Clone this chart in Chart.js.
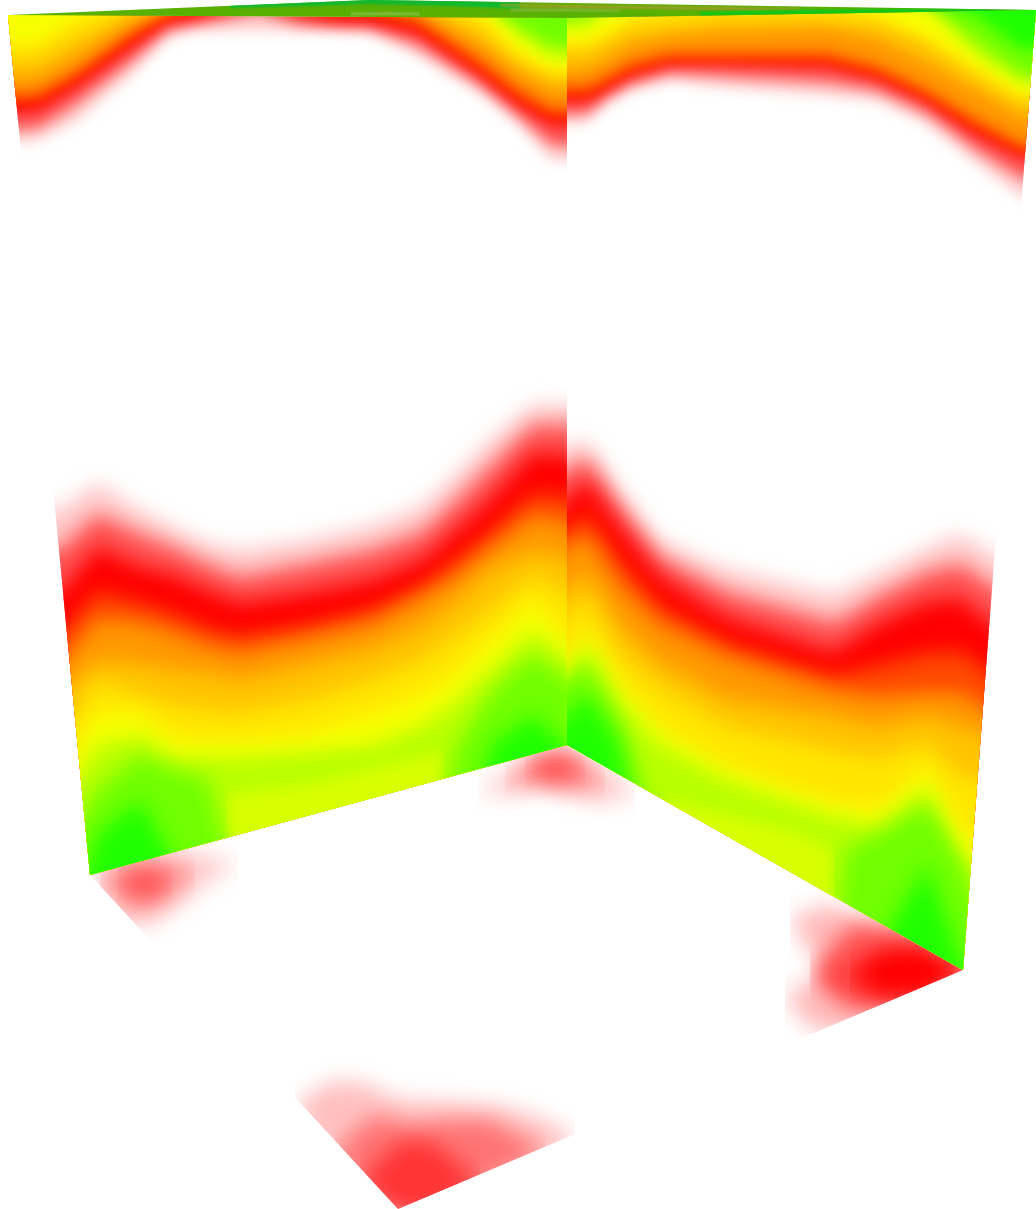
<!DOCTYPE html>
<html><head><meta charset="utf-8">
<style>html,body{margin:0;padding:0;background:#fff;overflow:hidden;width:1036px;height:1209px}
#wrap{position:absolute;left:-50px;top:-50px;width:1136px;height:1309px}</style>
<script src="https://cdn.jsdelivr.net/npm/chart.js@4"></script></head>
<body><div id="wrap"><canvas id="c" width="1136" height="1309"></canvas></div>
<script>
// Panel outlines
const leftWallX=[8,567,567,90], leftWallY=[15,18,745,875];
const rightWallX=[567,1036,963,567], rightWallY=[18,10,970,745];
const floorX=[90,565,963,398], floorY=[875,745,970,1209];
const ceilingX=[8,370,1036,567], ceilingY=[15,0,10,18];
// Colour of each level, from the white edge inwards
const levelColors=['#ffc8c8','#ff5050','#ff0000','#ff4800','#ff9800','#ffc400','#ffe600','#f8ff00','#b8ff00','#70ff00','#20ff00'];

// Lower band, left wall
const llX=[40,63,97,140,173,207,240,307,373,423,457,490,533,580];
const llOuter=[510,508,483,510,527,543,550,540,525,505,473,440,405,405];
const llPink=[552,547,514,534,547,564,577,564,550,532,500,467,425,425];
const llRed=[600,590,547,567,575,590,603,593,580,560,530,500,453,457];
const llRedOr=[643,633,591,603,613,628,636,625,609,586,559,533,493,498];
const llOrange=[675,660,618,622,632,645,652,638,622,595,575,548,515,525];
const llAmber=[710,690,660,663,670,673,680,665,648,625,600,570,550,560];
const llGold=[745,728,680,695,705,710,712,700,680,660,635,610,575,600];
const llYellow=[800,767,712,712,737,740,740,733,713,695,672,640,600,647];
const llLime=[830,800,745,735,757,757,757,752,745,725,700,670,630,670];
const llMid=[900,850,790,755,770,778,900,900,900,900,745,695,655,690];
const llGreen=[950,950,835,800,860,950,950,950,950,950,950,745,715,760];

// Lower band, right wall
const lrX=[550,587,620,660,727,833,845,877,927,960,1010];
const lrOuter=[451,441,491,541,569,594,588,573,548,534,565];
const lrPink=[480,458,506,557,592,622,617,597,572,564,597];
const lrRed=[516,481,527,577,618,652,645,624,602,598,640];
const lrRedOr=[541,513,561,606,643,676,673,665,653,651,686];
const lrOrange=[556,535,585,624,656,689,691,696,692,692,721];
const lrAmber=[600,573,626,662,698,716,719,726,716,726,744];
const lrGold=[630,598,655,687,726,751,753,759,744,775,790];
const lrYellow=[680,630,684,726,766,801,803,809,766,823,870];
const lrLime=[700,644,701,744,780,816,818,826,787,859,900];
const lrMid=[690,665,722,840,1000,1000,850,835,805,859,1000];
const lrGreen=[730,695,745,1000,1000,1000,1000,950,865,960,1000];

// Upper band, left wall
const ulX=[-10,37,74,130,167,190,259,300,335,370,418,481,518,552,590];
const ulOuter=[145,140,122,75,38,30,30,30,30,32,55,93,123,160,160];
const ulPink=[130,128,105,62,30,25,12,25,27,28,45,85,115,145,145];
const ulRed=[112,110,87,47,21,18,0,13,20,21,32,74,104,124,124];
const ulRedOr=[102,102,80,40,16,11,0,9,13,13,26,70,99,117,117];
const ulOrange=[94,92,72,32,11,0,0,0,6,6,17,59,87,107,107];
const ulAmber=[78,75,55,20,5,0,0,0,0,0,8,42,70,88,88];
const ulGold=[60,58,37,10,0,0,0,0,0,0,0,28,58,75,75];
const ulYellow=[42,42,18,0,0,0,0,0,0,0,0,12,50,68,68];
const ulLime=[0,0,0,0,0,0,0,0,0,0,0,0,35,58,58];
const ulMid=[0,0,0,0,0,0,0,0,0,0,0,0,25,45,45];

// Upper band, right wall
const urX=[550,587,607,630,670,727,827,877,927,977,1020,1050];
const urOuter=[125,122,103,90,80,87,95,100,123,163,195,205];
const urPink=[114,113,97,84,73,76,82,90,113,150,177,182];
const urRed=[100,100,87,74,62,62,65,77,100,134,155,162];
const urRedOr=[95,95,84,71,60,60,61,74,97,129,151,157];
const urOrange=[85,85,75,62,52,52,52,65,89,119,142,150];
const urAmber=[70,67,57,43,35,30,28,38,62,90,115,120];
const urGold=[50,50,40,28,22,16,16,22,42,75,100,105];
const urYellow=[40,40,30,15,0,0,0,12,34,66,92,96];
const urLime=[30,28,10,0,0,0,0,0,8,55,82,88];
const urMid=[18,15,0,0,0,0,0,0,0,40,72,76];
const urGreen=[0,0,0,0,0,0,0,0,0,15,48,50];

// Pale yellow-green stretches along the foot of each wall
const footLX=[225,300,400,445], footLUp=[795,785,762,752], footLLow=[900,900,900,900];
const footRX=[665,727,790,835], footRUp=[800,815,830,850], footRLow=[1000,1000,1000,1000];

// Floor patches
const fbX=[478,510,540,570,600,635], fbUp=[791,770,750,745,762,795], fbLow=[791,795,788,795,803,795];
const fbX2=[505,540,570,605], fbUp2=[782,752,750,785], fbLow2=[782,785,790,785];
const fbX3=[525,555,585], fbUp3=[768,755,768], fbLow3=[768,782,768];
const flX=[90,120,150,180,210,238], flUp=[872,855,850,850,858,862], flLow=[872,925,925,905,880,862];
const flX2=[100,130,160,195], flUp2=[880,860,860,872], flLow2=[880,910,905,872];
const flX3=[118,145,172], flUp3=[882,870,882], flLow3=[882,897,882];
const frX=[790,830,880,930], frUp=[918,905,925,950], frLow=[918,985,1000,990];
const frXb=[785,815,850,900], frUpb=[1000,975,960,960], frLowb=[1000,1030,1030,1010];
const frX2=[810,850,900,945,975], frUp2=[975,925,925,945,970], frLow2=[975,1010,1010,990,970];
const frX3=[850,880,920,975], frUp3=[975,950,945,970], frLow3=[975,995,1000,970];
const ffX=[295,330,360,400,450,500,540,575], ffUp=[1105,1082,1082,1100,1102,1106,1118,1137], ffLow=[1105,1170,1215,1215,1215,1215,1170,1137];
const ffX2=[335,375,410,450,490,545], ffUp2=[1150,1115,1125,1120,1120,1150], ffLow2=[1150,1215,1215,1215,1180,1150];
const ffX3=[360,400,430,480], ffUp3=[1180,1140,1140,1180], ffLow3=[1180,1215,1215,1180];

// Ceiling streaks
const ceilBaseX=[-10,1050], ceilBaseY=[30,30];
const ceilTopX=[230,300,370,450,520], ceilTopUp=[-5,-5,-5,-5,-5], ceilTopLow=[8,6,4,6,9];
const ceilOliveX=[500,570,650,730,800], ceilOliveUp=[4,5,6,7,8], ceilOliveLow=[6,8,9,10,10];
const ceilPaleX=[350,385,420], ceilPaleUp=[13,12.5,13], ceilPaleLow=[15,15,15];
const ceilPale2X=[510,560,620], ceilPale2Up=[9,9,10], ceilPale2Low=[11,11,11.5];
const ceilRightX=[700,800,900,1050], ceilRightUp=[12,10,9,8], ceilRightLow=[16,15,14,11];

const panels={
  left:{xs:leftWallX,ys:leftWallY},
  right:{xs:rightWallX,ys:rightWallY},
  floor:{xs:floorX,ys:floorY},
  ceiling:{xs:ceilingX,ys:ceilingY}
};
const paint=[];
function line(panel,blur,X,Y,fill,color){
  return {panel,blur,data:X.map((x,i)=>({x,y:Y[i]})),fill,backgroundColor:color,borderWidth:0,pointRadius:0,tension:0};
}
function stack(panel,blur,X,levels,target,offset){
  levels.forEach((Y,i)=>paint.push(line(panel,blur,X,Y,target,levelColors[i+(offset||0)])));
}
function band(panel,blur,X,up,low,color){
  paint.push(line(panel,blur,X,low,'-1',color));
  paint.push(line(panel,blur,X,up,false,color));
}
// Floor
[[fbX,fbUp,fbLow,'rgba(255,0,0,.22)'],[fbX2,fbUp2,fbLow2,'rgba(255,0,0,.35)'],[fbX3,fbUp3,fbLow3,'rgba(255,0,0,.45)'],
 [flX,flUp,flLow,'rgba(255,0,0,.22)'],[flX2,flUp2,flLow2,'rgba(255,0,0,.35)'],[flX3,flUp3,flLow3,'rgba(255,0,0,.45)'],
 [frX,frUp,frLow,'rgba(255,0,0,.28)'],[frXb,frUpb,frLowb,'rgba(255,0,0,.28)'],[frX2,frUp2,frLow2,'rgba(255,0,0,.55)'],[frX3,frUp3,frLow3,'rgba(255,0,0,1)'],
 [ffX,ffUp,ffLow,'rgba(255,0,0,.25)'],[ffX2,ffUp2,ffLow2,'rgba(255,0,0,.4)'],[ffX3,ffUp3,ffLow3,'rgba(255,0,0,.55)']
].forEach(b=>band('floor',11,b[0],b[1],b[2],b[3]));
// Walls
stack('left',10,llX,[llOuter,llPink,llRed,llRedOr,llOrange,llAmber,llGold,llYellow,llLime],'start');
band('left',8,footLX,footLUp,footLLow,'#d8ff00');
stack('left',10,llX,[llMid,llGreen],'start',9);
stack('right',10,lrX,[lrOuter,lrPink,lrRed,lrRedOr,lrOrange,lrAmber,lrGold,lrYellow,lrLime],'start');
band('right',8,footRX,footRUp,footRLow,'#d8ff00');
stack('right',10,lrX,[lrMid,lrGreen],'start',9);
stack('left',7,ulX,[ulOuter,ulPink,ulRed,ulRedOr,ulOrange,ulAmber,ulGold,ulYellow,ulLime,ulMid],'end');
stack('right',7,urX,[urOuter,urPink,urRed,urRedOr,urOrange,urAmber,urGold,urYellow,urLime,urMid,urGreen],'end');
// Ceiling
paint.push(line('ceiling',1,ceilBaseX,ceilBaseY,'end','#58b000'));
band('ceiling',1,ceilTopX,ceilTopUp,ceilTopLow,'#10b830');
band('ceiling',1,ceilOliveX,ceilOliveUp,ceilOliveLow,'#a09c28');
band('ceiling',1,ceilPaleX,ceilPaleUp,ceilPaleLow,'#90bc50');
band('ceiling',1,ceilPale2X,ceilPale2Up,ceilPale2Low,'#90b848');
band('ceiling',1,ceilRightX,ceilRightUp,ceilRightLow,'#10c818');

const panelPlugin={id:'panelClip',
  beforeDatasetDraw(chart,args){
    const ds=chart.data.datasets[args.index],p=panels[ds.panel];
    if(!p)return;
    const c=chart.ctx,sx=chart.scales.x,sy=chart.scales.y;
    c.save();c.beginPath();
    p.xs.forEach((x,i)=>{const px=sx.getPixelForValue(x),py=sy.getPixelForValue(p.ys[i]);i?c.lineTo(px,py):c.moveTo(px,py);});
    c.closePath();c.clip();c.filter='blur('+ds.blur+'px)';
  },
  afterDatasetDraw(chart,args){
    const ds=chart.data.datasets[args.index];
    if(panels[ds.panel])chart.ctx.restore();
  }
};
const filler=Chart.registry.getPlugin('filler');
Chart.unregister(filler);
Chart.register(panelPlugin,filler);

new Chart(document.getElementById('c'),{
  type:'line',
  data:{datasets:paint.slice().reverse()},
  options:{responsive:false,animation:false,events:[],
    layout:{padding:0},
    plugins:{legend:{display:false},tooltip:{enabled:false},title:{display:false}},
    scales:{
      x:{type:'linear',display:false,min:-50,max:1086},
      y:{type:'linear',display:false,reverse:true,min:-50,max:1259}
    }
  }
});
</script></body></html>
